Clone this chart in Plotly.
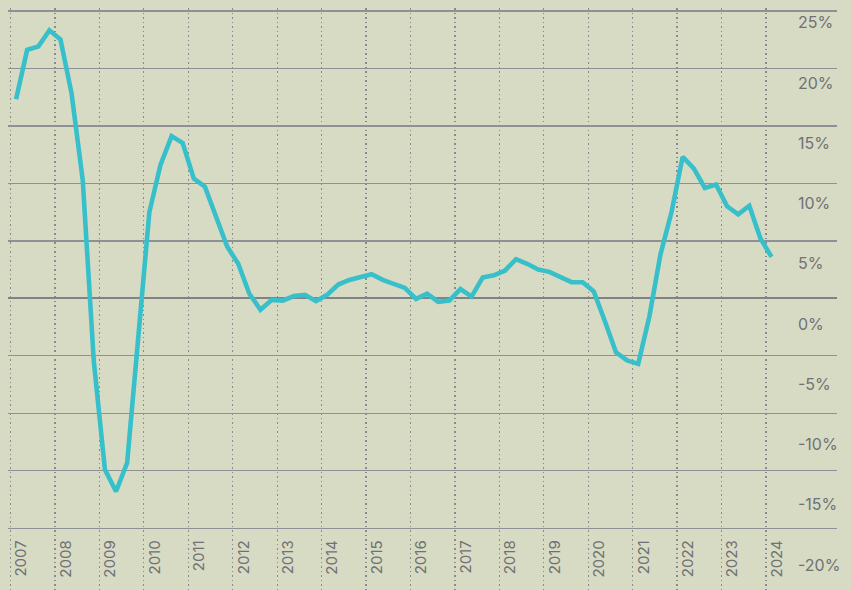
import plotly.graph_objects as go

# Quarterly data, Q1 2007 .. Q1 2024 (annual change, %)
years = list(range(2007, 2025))
quarters = [f"{y}Q{q}" for y in range(2007, 2025) for q in range(1, 5)][:69]
values = [
    17.3, 21.6, 21.9, 23.3,      # 2007
    22.5, 17.8, 10.3, -5.5,      # 2008
    -14.9, -16.8, -14.3, -3.0,   # 2009
    7.5, 11.6, 14.1, 13.5,       # 2010
    10.4, 9.7, 7.0, 4.5,         # 2011
    3.0, 0.4, -1.0, -0.15,       # 2012
    -0.2, 0.2, 0.3, -0.25,       # 2013
    0.3, 1.2, 1.6, 1.8,          # 2014
    2.1, 1.6, 1.3, 0.9,          # 2015
    -0.05, 0.4, -0.3, -0.2,      # 2016
    0.8, 0.15, 1.8, 2.0,         # 2017
    2.4, 3.4, 3.0, 2.5,          # 2018
    2.3, 1.9, 1.4, 1.4,          # 2019
    0.6, -2.0, -4.7, -5.4,       # 2020
    -5.7, -1.6, 3.8, 7.5,        # 2021
    12.3, 11.3, 9.6, 9.9,        # 2022
    8.0, 7.3, 8.05, 5.2,         # 2023
    3.6,                         # 2024
]
y_ticks = [-20, -15, -10, -5, 0, 5, 10, 15, 20, 25]
y_labels = [f"{v}%" for v in y_ticks]
year_labels = [str(y) for y in years]

# position of each quarter on a continuous year axis (mid-quarter)
xq = [int(q[:4]) + (int(q[-1]) - 0.5) / 4 for q in quarters]

BG = "#d8dbc4"
GRID = "#8d9095"
TXT = "#6f7174"
LINE = "#38c0ca"
FONT = "Inter, Roboto, Arial, sans-serif"

W, H = 851, 590
L, R, T, B = 8, 14, 8, 0
pw, ph = W - L - R, H - T - B

# pixel geometry
x0_px, ppy = 10.5, 44.44          # 2007 gridline x, pixels per year
zero_px, ppv = 298.3, 11.5        # 0% line y, pixels per percent
x_range = [2007 + (L - x0_px) / ppy, 2007 + (W - R - x0_px) / ppy]
y_range = [(zero_px - (H - B)) / ppv, (zero_px - T) / ppv]

# label scale for right-hand labels (centres at 22.7px for 25%, 565px for -20%)
lab_top, lab_ppv = 22.7, 12.05
y2_range = [25 - ((H - B) - lab_top) / lab_ppv, 25 + (lab_top - T) / lab_ppv]

fig = go.Figure()
fig.add_trace(go.Scatter(
    x=xq, y=values, mode="lines",
    line=dict(color=LINE, width=4.6),
    hoverinfo="skip", showlegend=False,
))
fig.add_trace(go.Scatter(
    x=[None], y=[None], xaxis="x2", yaxis="y2", mode="lines",
    hoverinfo="skip", showlegend=False,
))

fig.update_layout(
    width=W, height=H,
    margin=dict(l=L, r=R, t=T, b=B, pad=0),
    paper_bgcolor=BG, plot_bgcolor=BG,
    font=dict(family=FONT, color=TXT),
    hovermode=False,
    xaxis=dict(
        range=x_range, tickvals=years, showticklabels=False,
        showgrid=True, gridcolor="#878a8f", gridwidth=1.2,
        griddash="1.5px,3px",
        zeroline=False, showline=False, ticks="", fixedrange=True,
    ),
    yaxis=dict(
        range=y_range, tickvals=y_ticks, showticklabels=False,
        showgrid=True, gridcolor=GRID, gridwidth=1.4,
        zeroline=True, zerolinecolor="#7f8388", zerolinewidth=2.4,
        showline=False, ticks="", fixedrange=True,
    ),
    xaxis2=dict(
        overlaying="x", anchor="free",
        position=((H - B) - 528.3) / ph,
        side="bottom", range=x_range,
        tickvals=years, ticktext=year_labels, tickangle=-90,
        tickfont=dict(size=15, color=TXT, family=FONT),
        ticklabelshift=11, ticklabelstandoff=8,
        showgrid=False, zeroline=False, showline=False, ticks="",
        fixedrange=True,
    ),
    yaxis2=dict(
        overlaying="y", anchor="free", side="right",
        position=(797 - L) / pw,
        range=y2_range, tickvals=y_ticks, ticktext=y_labels,
        tickfont=dict(size=16, color=TXT, family=FONT),
        showgrid=False, zeroline=False, showline=False, ticks="",
        fixedrange=True,
    ),
)

fig.write_html(
    "out.html",
    config={"displayModeBar": False, "staticPlot": True},
    post_script="document.body.style.margin='0';",
)
